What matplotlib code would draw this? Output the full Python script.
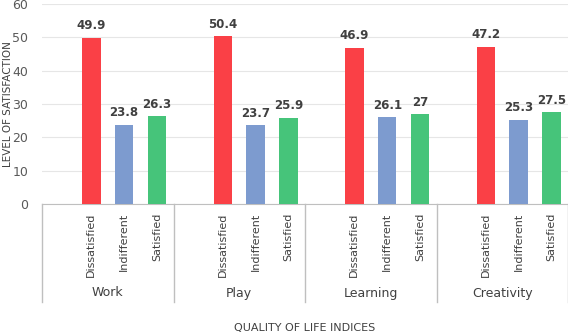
import numpy as np
import matplotlib.pyplot as plt

groups = ['Work', 'Play', 'Learning', 'Creativity']
levels = ['Dissatisfied', 'Indifferent', 'Satisfied']
dissatisfied = [49.9, 50.4, 46.9, 47.2]
indifferent = [23.8, 23.7, 26.1, 25.3]
satisfied = [26.3, 25.9, 27, 27.5]
colors = ['#FA4046', '#7D9BCF', '#46C47A']

plt.rcParams['font.family'] = 'DejaVu Sans'
fig = plt.figure(figsize=(5.68, 3.34), dpi=100)
ax = fig.add_axes([42 / 568, 1 - 204 / 334, 526 / 568, 200 / 334])

# each group has 4 slots, the first one left empty (as in the Excel chart)
slot = 4
width = 0.56
series = [dissatisfied, indifferent, satisfied]
tick_pos, tick_lab = [], []
for g in range(len(groups)):
    for k, vals in enumerate(series):
        x = g * slot + 1 + k
        v = vals[g]
        ax.bar(x, v, width=width, color=colors[k], zorder=3)
        ax.text(x, v + 1.6, f"{v:g}", ha='center', va='bottom',
                fontsize=8.5, fontweight='bold', color='#404040')
        tick_pos.append(x)
        tick_lab.append(levels[k])

ax.set_xlim(-0.5, len(groups) * slot - 0.5)
ax.set_ylim(0, 60)
ax.set_yticks(np.arange(0, 61, 10))
ax.tick_params(axis='y', length=0, labelsize=9, labelcolor='#595959', pad=10)
ax.set_xticks(tick_pos)
ax.set_xticklabels(tick_lab, rotation=90, fontsize=8, color='#404040')
ax.tick_params(axis='x', length=0, pad=6)
ax.grid(axis='y', color='#E6E6E6', linewidth=0.8, zorder=0)
for s in ['top', 'right', 'left']:
    ax.spines[s].set_visible(False)
ax.spines['bottom'].set_color('#BFBFBF')

trans = ax.get_xaxis_transform()
for g in range(len(groups) + 1):
    xs = g * slot - 0.5
    ax.plot([xs, xs], [0, -0.49], transform=trans, color='#BFBFBF',
            linewidth=1, clip_on=False)
for g, name in enumerate(groups):
    ax.text(g * slot + 1.5, -0.445, name, transform=trans, ha='center',
            va='center', fontsize=9, color='#404040')

fig.text(8 / 568, 1 - 104 / 334, 'LEVEL OF SATISFACTION', rotation=90,
         ha='center', va='center', fontsize=7.5, color='#404040')
fig.text(305 / 568, 1 - 328 / 334, 'QUALITY OF LIFE INDICES', ha='center',
         va='center', fontsize=8, color='#404040')

fig.savefig('out.png', dpi=100)
